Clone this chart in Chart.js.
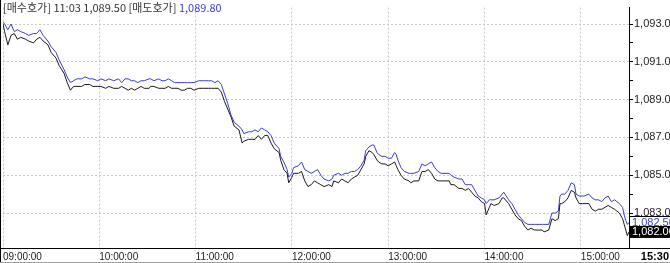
<!DOCTYPE html>
<html>
<head>
<meta charset="utf-8">
<script src="https://cdn.jsdelivr.net/npm/chart.js@4"></script>
<style>
  body { margin: 0; background: #fff; }
  #wrap { width: 670px; height: 263px; }
</style>
</head>
<body>
<div id="wrap"><canvas id="chart" width="670" height="263"></canvas></div>
<script>
// minutes after 09:00 for each quote sample
const minutes = [
  0, 1, 3, 5, 7, 9, 11, 14, 16, 19,
  21, 23, 25, 28, 30, 33, 35, 38, 40, 42,
  44, 46, 49, 51, 54, 56, 59, 61, 64, 66,
  69, 72, 74, 76, 78, 80, 82, 84, 86, 88,
  91, 92, 94, 97, 99, 101, 103, 105, 107, 109,
  111, 113, 115, 117, 119, 122, 124, 125, 128, 130,
  132, 134, 136, 138, 140, 142, 144, 147, 149, 150,
  153, 155, 157, 159, 161, 163, 165, 167, 169, 172,
  173, 175, 177, 178, 180, 181, 184, 186, 188, 190,
  192, 194, 196, 198, 200, 203, 205, 206, 209, 211,
  213, 215, 217, 219, 221, 223, 225, 226, 228, 230,
  231, 233, 234, 236, 238, 240, 242, 244, 245, 246,
  248, 250, 253, 254, 256, 259, 261, 263, 265, 267,
  269, 271, 273, 278, 279, 281, 284, 286, 288, 290,
  292, 294, 296, 298, 300, 301, 303, 304, 306, 309,
  311, 312, 315, 317, 319, 321, 323, 325, 327, 329,
  331, 334, 336, 337, 340, 342, 344, 346, 347, 348,
  350, 352, 354, 356, 357, 359, 361, 362, 365, 367,
  369, 371, 373, 375, 377, 379, 381, 384, 386, 387,
  388, 389, 390
]

// 매도호가 (ask) - blue
const ask = [
  1093.1, 1093.0, 1092.7, 1093.0, 1092.6, 1092.7, 1092.6, 1092.5, 1092.4, 1092.5,
  1092.5, 1092.7, 1092.4, 1092.1, 1091.8, 1091.5, 1091.1, 1090.6, 1090.2, 1089.9,
  1090.0, 1090.1, 1090.1, 1090.2, 1090.1, 1090.1, 1090.0, 1090.1, 1090.0, 1090.1,
  1090.0, 1090.1, 1089.9, 1090.1, 1090.1, 1090.0, 1090.0, 1089.9, 1090.0, 1090.0,
  1090.1, 1090.1, 1090.0, 1090.1, 1090.0, 1090.0, 1090.1, 1090.0, 1089.9, 1089.9,
  1089.9, 1089.9, 1089.9, 1089.9, 1089.9, 1090.0, 1090.0, 1090.0, 1090.0, 1090.0,
  1089.9, 1090.0, 1089.8, 1089.3, 1088.8, 1088.2, 1087.8, 1087.6, 1087.4, 1087.2,
  1087.3, 1087.3, 1087.4, 1087.3, 1087.5, 1087.4, 1087.3, 1087.1, 1086.7, 1086.4,
  1086.0, 1085.7, 1085.3, 1084.9, 1085.1, 1085.4, 1085.5, 1085.7, 1085.3, 1085.2,
  1085.1, 1085.2, 1085.3, 1085.0, 1084.8, 1084.7, 1084.8, 1085.0, 1085.1, 1085.0,
  1085.1, 1085.1, 1085.2, 1085.2, 1085.3, 1085.5, 1085.8, 1086.3, 1086.5, 1086.6,
  1086.6, 1086.2, 1086.1, 1086.0, 1086.0, 1085.9, 1085.9, 1086.2, 1086.1, 1085.8,
  1085.4, 1085.2, 1085.1, 1085.1, 1085.1, 1085.2, 1085.6, 1085.5, 1085.6, 1085.7,
  1085.4, 1085.2, 1085.1, 1085.1, 1085.0, 1084.9, 1084.8, 1084.8, 1084.5, 1084.5,
  1084.5, 1084.2, 1083.9, 1083.8, 1083.7, 1083.5, 1083.7, 1083.7, 1083.7, 1083.8,
  1084.0, 1084.1, 1083.7, 1083.5, 1083.2, 1082.9, 1082.7, 1082.5, 1082.4, 1082.4,
  1082.4, 1082.4, 1082.4, 1082.4, 1082.4, 1083.0, 1083.0, 1083.1, 1083.9, 1084.0,
  1084.0, 1084.2, 1084.6, 1084.5, 1084.0, 1083.9, 1083.9, 1083.9, 1084.0, 1083.8,
  1083.7, 1083.7, 1083.6, 1083.8, 1083.9, 1083.6, 1083.7, 1083.5, 1083.3, 1082.9,
  1082.6, 1082.4, 1082.5
]

// 매수호가 (bid) - black
const bid = [
  1093.0, 1092.6, 1091.9, 1092.4, 1092.5, 1092.2, 1092.3, 1092.2, 1092.1, 1092.0,
  1092.2, 1092.3, 1092.1, 1091.9, 1091.5, 1091.2, 1090.8, 1090.4, 1089.9, 1089.5,
  1089.7, 1089.7, 1089.7, 1089.8, 1089.8, 1089.7, 1089.7, 1089.7, 1089.6, 1089.7,
  1089.6, 1089.6, 1089.7, 1089.6, 1089.5, 1089.6, 1089.5, 1089.6, 1089.7, 1089.6,
  1089.6, 1089.7, 1089.7, 1089.6, 1089.6, 1089.6, 1089.7, 1089.6, 1089.6, 1089.6,
  1089.5, 1089.5, 1089.6, 1089.6, 1089.5, 1089.6, 1089.6, 1089.6, 1089.6, 1089.6,
  1089.6, 1089.6, 1089.4, 1088.9, 1088.5, 1088.1, 1087.6, 1087.4, 1086.7, 1086.8,
  1086.9, 1086.9, 1086.9, 1087.1, 1086.9, 1087.1, 1087.1, 1086.7, 1086.4, 1086.2,
  1085.8, 1085.3, 1085.1, 1084.6, 1084.9, 1085.1, 1085.1, 1085.2, 1084.7, 1084.4,
  1084.5, 1084.7, 1084.6, 1084.5, 1084.4, 1084.5, 1084.4, 1084.7, 1084.6, 1084.8,
  1084.7, 1084.6, 1084.8, 1084.9, 1085.0, 1085.3, 1085.6, 1086.0, 1086.3, 1086.2,
  1086.1, 1085.8, 1085.7, 1085.6, 1085.6, 1085.5, 1085.6, 1085.7, 1085.5, 1085.3,
  1085.0, 1084.8, 1084.7, 1084.6, 1084.7, 1084.7, 1085.2, 1085.2, 1085.3, 1085.1,
  1084.8, 1084.7, 1084.7, 1084.7, 1084.5, 1084.5, 1084.3, 1084.3, 1084.2, 1084.3,
  1084.1, 1083.9, 1083.8, 1083.6, 1083.5, 1082.9, 1083.3, 1083.5, 1083.4, 1083.5,
  1083.8, 1083.8, 1083.5, 1083.2, 1082.9, 1082.7, 1082.6, 1082.3, 1082.1, 1082.2,
  1082.1, 1082.1, 1082.1, 1082.0, 1082.1, 1082.7, 1082.6, 1082.7, 1083.5, 1083.5,
  1083.6, 1083.8, 1084.2, 1084.1, 1083.8, 1083.5, 1083.5, 1083.5, 1083.5, 1083.2,
  1083.1, 1083.2, 1083.2, 1083.3, 1083.4, 1083.3, 1083.2, 1083.0, 1082.7, 1082.4,
  1082.1, 1081.8, 1082.0
]

const xTickMinutes = [0, 60, 120, 180, 240, 300, 360]
const xTickLabels = ['09:00:00', '10:00:00', '11:00:00', '12:00:00', '13:00:00', '14:00:00', '15:00:00']
const closeLabel = '15:30'
const yTicks = [1082, 1083, 1084, 1085, 1086, 1087, 1088, 1089, 1090, 1091, 1092, 1093]
const yMin = 1081.15
const yMax = 1093.87

// cursor readout shown in the header
const cursorTime = '11:03'
const cursorBid = 1089.50
const cursorAsk = 1089.80

if (ask.length !== minutes.length || bid.length !== minutes.length) {
  throw new Error('length mismatch ' + minutes.length + ' ' + ask.length + ' ' + bid.length)
}

const BLUE = '#3c3cd2'
const GRID = '#c8c8c8'
const fmt = (v, d) => v.toLocaleString('en-US', { minimumFractionDigits: d, maximumFractionDigits: d })

const overlay = {
  id: 'overlay',
  afterDraw(chart) {
    const ctx = chart.ctx
    const area = chart.chartArea
    const ys = chart.scales.y
    ctx.save()

    // frame: left edge and full-width bottom line
    ctx.strokeStyle = '#000'
    ctx.lineWidth = 1
    ctx.beginPath()
    ctx.moveTo(0.5, 0)
    ctx.lineTo(0.5, chart.height)
    const by = Math.round(area.bottom) + 0.5
    ctx.moveTo(0, by)
    ctx.lineTo(chart.width, by)
    ctx.stroke()
    ctx.strokeStyle = '#a0a0a0'
    ctx.beginPath()
    ctx.moveTo(0, chart.height - 0.5)
    ctx.lineTo(chart.width, chart.height - 0.5)
    ctx.stroke()

    // header readout
    ctx.font = '11px "Noto Sans CJK KR"'
    ctx.textBaseline = 'middle'
    ctx.textAlign = 'left'
    const head = '[매수호가] ' + cursorTime + ' ' + fmt(cursorBid, 2) + ' [매도호가] '
    ctx.fillStyle = '#333'
    ctx.fillText(head, 3, 8)
    ctx.fillStyle = BLUE
    ctx.fillText(fmt(cursorAsk, 2), 3 + ctx.measureText(head).width, 8)

    // last-value boxes on the price axis
    ctx.font = '11px "Liberation Sans"'
    const lastAsk = ask[ask.length - 1]
    const lastBid = bid[bid.length - 1]
    const ay = ys.getPixelForValue(lastAsk)
    const ky = ys.getPixelForValue(lastBid)
    const bx = area.right + 1
    ctx.fillStyle = '#fff'
    ctx.fillRect(bx, ay - 6, chart.width - bx, 12)
    ctx.strokeStyle = '#000'
    ctx.beginPath()
    ctx.moveTo(bx, Math.round(ay - 6) + 0.5)
    ctx.lineTo(chart.width, Math.round(ay - 6) + 0.5)
    ctx.stroke()
    ctx.fillStyle = BLUE
    ctx.fillText(fmt(lastAsk, 2), bx + 2, ay)
    ctx.fillStyle = '#000'
    ctx.fillRect(bx, ky - 6, chart.width - bx, 12)
    ctx.fillStyle = '#fff'
    ctx.fillText(fmt(lastBid, 2), bx + 2, ky)

    // closing time label under the price axis
    ctx.font = 'bold 11px "Liberation Sans"'
    ctx.fillStyle = '#000'
    ctx.textAlign = 'right'
    ctx.fillText(closeLabel, chart.width - 1, (area.bottom + chart.height) / 2 + 1)
    ctx.restore()
  }
}

new Chart(document.getElementById('chart'), {
  type: 'line',
  data: {
    datasets: [
      {
        label: '매수호가',
        data: minutes.map((m, i) => ({ x: m, y: bid[i] })),
        borderColor: '#1a1a1a',
        borderWidth: 1,
        pointRadius: 0,
        tension: 0
      },
      {
        label: '매도호가',
        data: minutes.map((m, i) => ({ x: m, y: ask[i] })),
        borderColor: BLUE,
        borderWidth: 1,
        pointRadius: 0,
        tension: 0
      }
    ]
  },
  options: {
    responsive: false,
    animation: false,
    layout: { autoPadding: false, padding: { left: 1, right: 0, top: 0, bottom: 0 } },
    plugins: { legend: { display: false }, tooltip: { enabled: false } },
    scales: {
      x: {
        type: 'linear',
        min: 0,
        max: 390,
        afterBuildTicks: scale => { scale.ticks = xTickMinutes.map(v => ({ value: v })) },
        afterFit: scale => { scale.height = 15 },
        ticks: {
          autoSkip: false,
          maxRotation: 0,
          align: 'start',
          padding: 3,
          color: '#222',
          font: { family: 'Liberation Sans', size: 10 },
          callback: (v, i) => xTickLabels[i]
        },
        grid: { color: GRID, drawTicks: false },
        border: { display: false, dash: [2, 2] }
      },
      y: {
        position: 'right',
        min: yMin,
        max: yMax,
        afterBuildTicks: scale => { scale.ticks = yTicks.map(v => ({ value: v })) },
        afterFit: scale => { scale.width = 41 },
        ticks: {
          padding: 1,
          color: '#222',
          font: { family: 'Liberation Sans', size: 11 },
          callback: v => (v % 2 === 1 ? fmt(v, 1) : '')
        },
        grid: {
          color: ctx => (ctx.tick && ctx.tick.value % 2 === 1 ? GRID : 'rgba(0,0,0,0)'),
          tickColor: '#000',
          tickLength: 4
        },
        border: { display: true, color: '#000', width: 1, dash: [2, 2] }
      }
    }
  },
  plugins: [overlay]
})
</script>
</body>
</html>
